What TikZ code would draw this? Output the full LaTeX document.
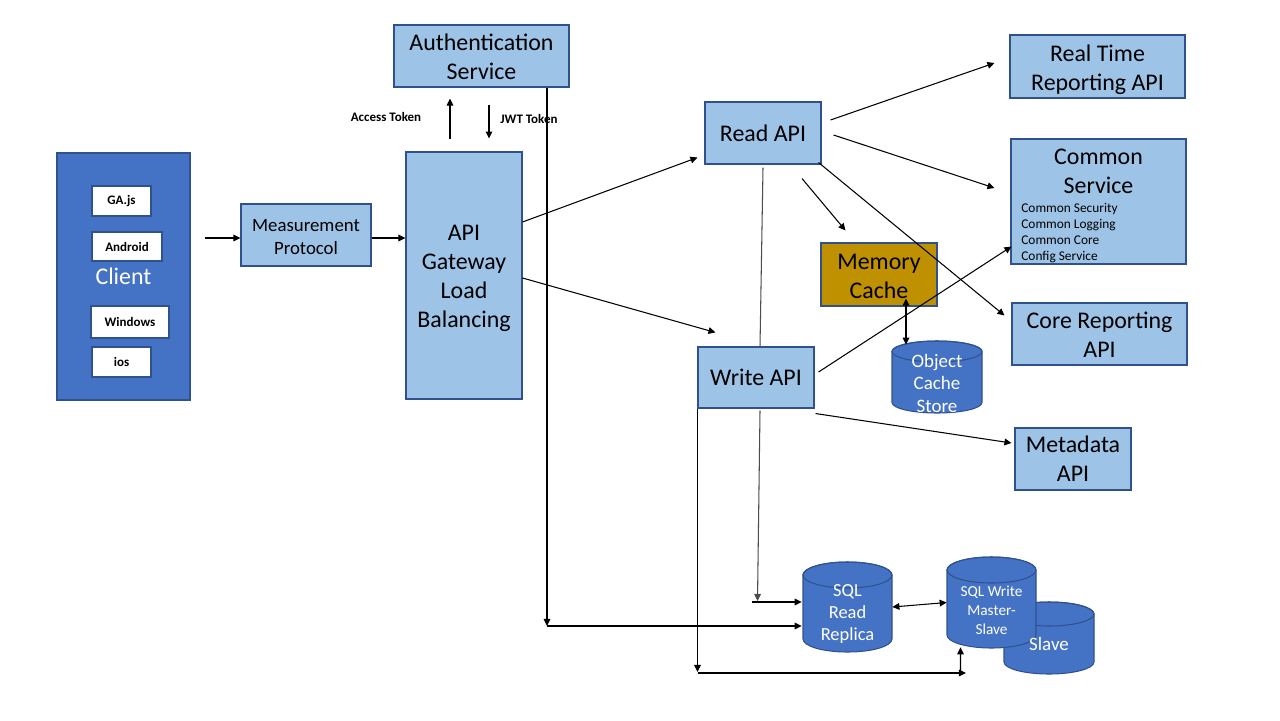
\documentclass[tikz,border=0pt]{standalone}
\usepackage{fontspec}
\setmainfont{Carlito}
\usetikzlibrary{arrows.meta,calc}
\definecolor{lblue}{HTML}{9DC3E6}
\definecolor{bord}{HTML}{2F528F}
\definecolor{cblue}{HTML}{4472C4}
\definecolor{gold}{HTML}{BF9000}
\newcommand\fs[2]{\fontsize{#1}{#2}\selectfont}
% cylinder: name, cx, cy, half width, half height, ry (all in px units)
\newcommand\dbcyl[6]{%
  \pgfmathsetmacro\cxl{#2-#4}\pgfmathsetmacro\cxr{#2+#4}%
  \pgfmathsetmacro\cyt{#3+#5-#6}\pgfmathsetmacro\cyb{#3-#5+#6}%
  \filldraw[cylst] (\cxl,\cyt) -- (\cxl,\cyb)
     arc[start angle=180,end angle=360,x radius=#4*0.02cm,y radius=#6*0.02cm]
     -- (\cxr,\cyt)
     arc[start angle=0,end angle=180,x radius=#4*0.02cm,y radius=#6*0.02cm] -- cycle;
  \draw[cylst,fill=none] (#2,\cyt) ellipse[x radius=#4*0.02cm,y radius=#6*0.02cm];
  \node[inner sep=0pt,minimum width=2*#4*0.02cm,minimum height=2*#5*0.02cm] (#1) at (#2,#3) {};%
}
\tikzset{
  sz/.style 2 args={minimum width=#1*0.02cm, minimum height=#2*0.02cm},
  bx/.style={draw=bord, fill=lblue, line width=0.6pt, inner sep=0pt, align=center, font=\fs{13.6}{16.4}},
  btx/.style={inner sep=0pt, align=center, font=\fs{13.6}{16.4}},
  wbx/.style={draw=bord, fill=white, line width=0.6pt, inner sep=0pt, font=\fs{7.4}{9}\bfseries},
  cylst/.style={draw=bord, fill=cblue, line width=0.6pt},
  ctxt/.style={text=white, align=center, inner sep=0pt},
  arr/.style={line width=0.6pt, -{Triangle[length=4pt,width=3.8pt]}},
  darr/.style={line width=0.6pt, {Triangle[length=4pt,width=3.8pt]}-{Triangle[length=4pt,width=3.8pt]}},
  gline/.style={line width=0.6pt, draw=black!70},
  lbl/.style={font=\fs{7.4}{9}\bfseries, inner sep=0pt},
}
\begin{document}
\begin{tikzpicture}[x=0.02cm,y=0.02cm]
\useasboundingbox (0,0) rectangle (1280,-720);
\fill[white] (0,0) rectangle (1280,-720);

% client
\node[draw=bord, fill=cblue, line width=0.6pt, sz={133}{247}, text=white, font=\fs{13.6}{16}] (client) at (123.5,-276.5) {Client};
\node[wbx, sz={59}{30}] (gajs) at (121.5,-201) {GA.js};
\node[wbx, sz={70}{29}] (android) at (127,-246.5) {Android};
\node[wbx, sz={78}{32}] (windows) at (130,-322) {Windows};
\node[wbx, sz={59}{30}] (ios) at (121.5,-362) {ios};

% boxes
\node[bx, sz={130}{62}] (mp) at (306,-235) {};
\node[btx, font=\fs{10.7}{13}] (mpt) at (306,-237) {Measurement\\Protocol};
\node[bx, sz={116}{247}] (gw) at (464,-275.5) {};
\node[btx] (gwt) at (464,-278.5) {API\\Gateway\\Load\\Balancing};
\node[bx, sz={175}{62}] (auth) at (481.5,-56) {};
\node[btx] (autht) at (481.5,-57) {Authentication\\Service};
\node[bx, sz={116}{62}] (read) at (763,-133) {Read API};
\node[bx, sz={116}{61}] (write) at (756,-377.5) {Write API};
\node[bx, sz={175}{63}] (rt) at (1097.5,-66.5) {};
\node[btx] (rtt) at (1097.5,-69.5) {Real Time\\Reporting API};
\node[bx, sz={175}{125}] (cs) at (1098.5,-201.5) {};
\node[btx] (cst) at (1098.5,-171.5) {Common\\Service};
\node[inner sep=0pt, align=left, anchor=north west, font=\fs{7.6}{9.1}] (csl) at (1021,-203) {Common Security\\Common Logging\\Common Core\\Config Service};
\node[bx, fill=gold, sz={116}{63}] (mem) at (879,-274.5) {};
\node[btx] (memt) at (879,-276.5) {Memory\\Cache};
\node[bx, sz={175}{62}] (core) at (1099.5,-334) {};
\node[btx] (coret) at (1099.5,-335) {Core Reporting\\API};
\node[bx, sz={116}{62}] (meta) at (1073,-459) {Metadata\\API};

% cylinders
\dbcyl{ocs}{937}{-377}{45}{36}{10.5}
\node[ctxt, font=\fs{10.8}{12.8}] (ocst) at (937,-383) {Object\\Cache\\Store};
\dbcyl{sqlr}{847.5}{-607}{44.5}{45}{13}
\node[ctxt, font=\fs{10.5}{12.8}] (sqlrt) at (847.5,-614) {SQL\\Read\\Replica};
\dbcyl{slave}{1049}{-638}{45}{36}{12}
\dbcyl{sqlw}{991.5}{-602.5}{44.5}{45.5}{13}
\node[ctxt, font=\fs{8.7}{10.8}] (sqlwt) at (991.5,-610.5) {SQL Write\\Master-\\Slave};
\node[ctxt, font=\fs{10.8}{12.8}] (slavet) at (1049,-644) {Slave};

% coordinates for free ends / corners
\coordinate (cin) at (205,-238);
\coordinate (k1) at (547,-626);
\coordinate (k2) at (757.5,-601);
\coordinate (k2b) at (752,-602);
\coordinate (k3) at (697.5,-672);
\coordinate (k4) at (966,-673);

% connectors
\draw[arr] (cin) -- (cin -| mp.west);
\draw[arr] ($(mp.east)+(0,-3)$) -- ($(mp.east -| gw.west)+(0,-3)$);
\draw[arr] ($(auth.south)+(-31.5,-51)$) -- ($(auth.south)+(-31.5,-11)$);
\draw[arr] ($(auth.south)+(7.5,-17)$) -- ($(auth.south)+(7.5,-51)$);
\node[lbl] (atok) at (386,-117) {Access Token};
\node[lbl] (jtok) at (529,-119) {JWT Token};
\draw[arr] (auth.south -| k1) -- (k1);
\draw[arr] (k1) -- ($(k1 -| sqlr.west)+(-1,0)$);

\draw[arr] ($(gw.east)+(0,53.5)$) -- ($(read.south west)+(-7,7)$);
\draw[arr] ($(gw.east)+(0,-2.5)$) -- ($(write.north west)+(18,14)$);

\draw[arr] ($(read.east)+(9,13)$) -- ($(rt.west)+(-15,3.5)$);
\draw[arr] ($(read.east)+(12,-2)$) -- ($(cs.west)+(-16,13.5)$);
\draw[arr] ($(read.south)+(39,-14)$) -- ($(mem.north west)+(25,12)$);
\draw[arr] ($(read.south east)+(-3,2)$) -- ($(core.north west)+(-7,-13)$);
\draw[gline] ($(read.south)+(0,-3)$) -- ($(write.north)+(4,0)$);

\draw[arr] ($(write.east)+(4,5.5)$) -- ($(cs.south west)+(1,18)$);
\draw[arr] ($(write.south east)+(1,-5)$) -- ($(meta.west)+(-3,16)$);
\draw[darr] ($(mem.south)+(27,8)$) -- ($(ocs.north)+(-31,-4)$);

\draw[gline, -{Triangle[length=4pt,width=3.8pt]}] ($(write.south)+(4,-2)$) -- (k2);
\draw[arr] (k2b) -- ($(k2b -| sqlr.west)+(-1,0)$);
\draw[arr] (write.south west -| k3) -- (k3);
\draw[arr] ($(k3)+(0,-1)$) -- (k4);
\draw[arr] ($(k4)+(-5.5,2)$) -- ($(sqlw.south)+(-31,1)$);
\draw[darr] (sqlr.east) -- (sqlw.west);
\end{tikzpicture}
\end{document}
